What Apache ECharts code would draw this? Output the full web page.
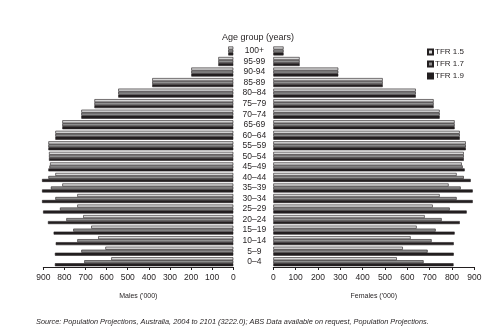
<!DOCTYPE html>
<html>
<head>
<meta charset="utf-8">
<script src="https://cdn.jsdelivr.net/npm/echarts@6/dist/echarts.min.js"></script>
<style>
  html, body { margin: 0; padding: 0; background: #fff; }
  #chart { width: 503px; height: 336px; }
</style>
</head>
<body>
<div id="chart"></div>
<script>
// Age groups, oldest first (top of the pyramid)
const ageGroups = ['100+', '95-99', '90-94', '85-89', '80\u201384', '75\u201379', '70\u201374',
  '65-69', '60\u201364', '55\u201359', '50\u201354', '45\u201349', '40\u201344', '35\u201339',
  '30\u201334', '25\u201329', '20\u201324', '15\u201319', '10\u201314', '5\u20139', '0\u20134'];

const seriesNames = ['TFR 1.5', 'TFR 1.7', 'TFR 1.9'];

// Males ('000)
const malesTfr15 = [24, 71, 199, 384, 545, 658, 720, 810, 843, 876, 873, 868, 843, 810, 739, 739, 711, 673, 640, 606, 578];
const malesTfr17 = [24, 71, 199, 384, 545, 658, 720, 810, 843, 876, 873, 871, 876, 864, 843, 821, 791, 758, 739, 720, 706];
const malesTfr19 = [24, 71, 199, 384, 545, 658, 720, 810, 843, 876, 873, 876, 906, 906, 906, 901, 878, 851, 841, 845, 845];

// Females ('000)
const femalesTfr15 = [46, 118, 291, 490, 638, 718, 745, 812, 835, 862, 853, 844, 821, 785, 745, 714, 678, 642, 615, 580, 553];
const femalesTfr17 = [46, 118, 291, 490, 638, 718, 745, 812, 835, 862, 853, 848, 853, 839, 821, 790, 754, 727, 709, 691, 673];
const femalesTfr19 = [46, 118, 291, 490, 638, 718, 745, 812, 835, 862, 853, 857, 884, 893, 893, 866, 835, 812, 808, 808, 807];

const xTicks = [0, 100, 200, 300, 400, 500, 600, 700, 800, 900];

const colors = ['#d6d6d6', '#8f8f8f', '#231f20'];
const ink = '#231f20';
const font = 'Liberation Sans, Arial, sans-serif';
const narrow = 'Liberation Sans Narrow, Arial Narrow, Liberation Sans, sans-serif';

function valueAxis(gridIndex, inverse, name) {
  return {
    type: 'value', gridIndex, inverse,
    min: xTicks[0], max: xTicks[xTicks.length - 1], interval: 100,
    name, nameLocation: 'middle', nameGap: 26,
    nameTextStyle: { fontFamily: font, fontSize: 7, color: ink },
    axisLine: { show: true, lineStyle: { color: ink, width: 1 } },
    axisTick: { show: true, length: 3, lineStyle: { color: ink, width: 1 } },
    axisLabel: { fontFamily: font, fontSize: 8.5, color: ink, margin: 6 },
    splitLine: { show: false }
  };
}

function bars(name, data, idx, axis) {
  return {
    name, type: 'bar', data,
    xAxisIndex: axis, yAxisIndex: axis,
    barWidth: 3, barGap: '0%',
    clip: false,
    itemStyle: { color: colors[idx], borderColor: ink, borderWidth: 0.6 },
    emphasis: { disabled: true },
    animation: false
  };
}

const chart = echarts.init(document.getElementById('chart'), null, { renderer: 'canvas' });
chart.setOption({
  backgroundColor: '#fff',
  animation: false,
  title: [
    { text: 'Age group (years)', left: 253, top: 28, textAlign: 'center',
      textStyle: { fontFamily: narrow, fontSize: 9, fontWeight: 'normal', color: ink } },
    { text: 'Source: Population Projections, Australia, 2004 to 2101 (3222.0); ABS Data available on request, Population Projections.',
      left: 31, top: 313,
      textStyle: { fontFamily: font, fontSize: 7.35, fontStyle: 'italic', fontWeight: 'normal', color: ink } }
  ],
  legend: {
    data: seriesNames, orient: 'vertical', left: 422, top: 43,
    itemWidth: 5, itemHeight: 5, itemGap: 4,
    icon: 'rect',
    textStyle: { fontFamily: narrow, fontSize: 8, color: ink, padding: [0, 0, 0, -3] },
    selectedMode: false
  },
  grid: [
    { left: 43.3, right: 503 - 233.3, top: 45.7, bottom: 336 - 267 },
    { left: 273.3, right: 503 - 474.3, top: 45.7, bottom: 336 - 267 }
  ],
  xAxis: [
    valueAxis(0, true, "Males ('000)"),
    valueAxis(1, false, "Females ('000)")
  ],
  yAxis: [
    { type: 'category', gridIndex: 0, inverse: true, data: ageGroups,
      axisLine: { show: false }, axisTick: { show: false }, axisLabel: { show: false } },
    { type: 'category', gridIndex: 1, inverse: true, data: ageGroups,
      axisLine: { show: false }, axisTick: { show: false },
      axisLabel: { interval: 0, fontFamily: font, fontSize: 8.5, color: ink, align: 'center', margin: 19 } }
  ],
  series: [
    bars(seriesNames[0], malesTfr15, 0, 0),
    bars(seriesNames[1], malesTfr17, 1, 0),
    bars(seriesNames[2], malesTfr19, 2, 0),
    bars(seriesNames[0], femalesTfr15, 0, 1),
    bars(seriesNames[1], femalesTfr17, 1, 1),
    bars(seriesNames[2], femalesTfr19, 2, 1)
  ]
});
</script>
</body>
</html>
